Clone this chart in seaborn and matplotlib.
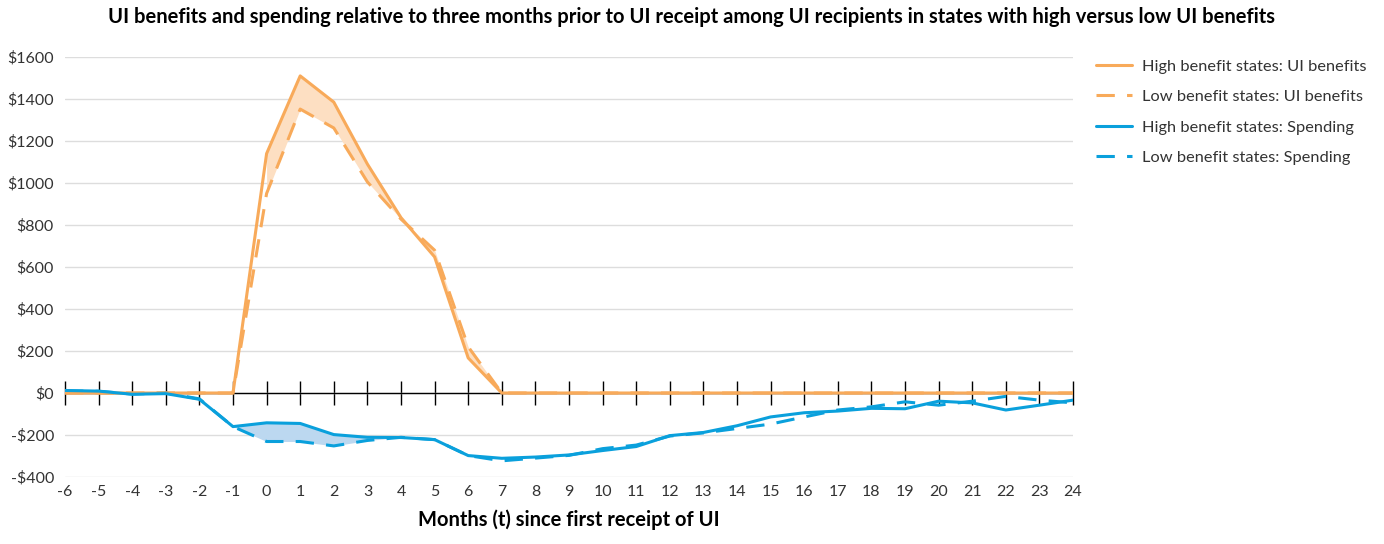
import matplotlib
matplotlib.use("Agg")
import matplotlib.pyplot as plt
import numpy as np
import pandas as pd
import seaborn as sns

months = list(range(-6, 25))

ui_high = [0, 0, 0, 0, 0, 0, 1140, 1510, 1385, 1090, 835, 648, 167, 0,
           0, 0, 0, 0, 0, 0, 0, 0, 0, 0, 0, 0, 0, 0, 0, 0, 0]
ui_low = [0, 0, 0, 0, 0, 0, 950, 1352, 1262, 1005, 828, 680, 220, 0,
          0, 0, 0, 0, 0, 0, 0, 0, 0, 0, 0, 0, 0, 0, 0, 0, 0]
spend_high = [12, 9, -6, -3, -30, -160, -142, -145, -198, -211, -212, -222, -298, -311,
              -305, -295, -274, -255, -203, -188, -156, -114, -94, -86, -73, -75, -39, -47,
              -81, -58, -34]
spend_low = [10, 8, -5, 0, -28, -160, -231, -231, -252, -226, -211, -222, -298, -323,
             -310, -297, -265, -248, -205, -190, -169, -148, -114, -81, -66, -42, -58, -39,
             -16, -34, -47]

y_ticks = [-400, -200, 0, 200, 400, 600, 800, 1000, 1200, 1400, 1600]
y_labels = ["-$400", "-$200", "$0", "$200", "$400", "$600", "$800", "$1000",
            "$1200", "$1400", "$1600"]

ORANGE = "#F8AA5A"
BLUE = "#0AA0DC"
ORANGE_FILL = "#FDDFC2"
BLUE_FILL = "#BCD8F0"
TXT = "#333333"

sns.set_style("white")
plt.rcParams["font.family"] = ["Lato", "DejaVu Sans"]

df = pd.DataFrame({
    "month": months,
    "ui_high": ui_high,
    "ui_low": ui_low,
    "spend_high": spend_high,
    "spend_low": spend_low,
})

fig = plt.figure(figsize=(13.84, 5.44), dpi=100)
ax = fig.add_axes([65 / 1384, 1 - 477 / 544, (1073 - 65) / 1384, (477 - 57) / 544])

m = df["month"].to_numpy()
ax.fill_between(m, df["ui_high"], df["ui_low"], where=(m >= 0) & (m <= 7),
                color=ORANGE_FILL, lw=0, zorder=1)
ax.fill_between(m, df["spend_high"], df["spend_low"], where=(m >= -1) & (m <= 4),
                color=BLUE_FILL, lw=0, zorder=1)

ax.axhline(0, color="black", lw=1.0, zorder=2)

dash = (6, 4)
sns.lineplot(data=df, x="month", y="ui_high", ax=ax, color=ORANGE, lw=2.2,
             label="High benefit states: UI benefits", zorder=4)
sns.lineplot(data=df, x="month", y="ui_low", ax=ax, color=ORANGE, lw=2.2,
             label="Low benefit states: UI benefits", zorder=3)
sns.lineplot(data=df, x="month", y="spend_high", ax=ax, color=BLUE, lw=2.2,
             label="High benefit states: Spending", zorder=4)
sns.lineplot(data=df, x="month", y="spend_low", ax=ax, color=BLUE, lw=2.2,
             label="Low benefit states: Spending", zorder=3)
ax.lines[2].set_dashes(dash)
ax.lines[4].set_dashes(dash)

ax.set_xlim(-6, 24)
ax.set_ylim(-400, 1600)
ax.set_yticks(y_ticks)
ax.set_yticklabels(y_labels)
ax.set_xticks(months)
ax.set_xticklabels([str(v) for v in months])
ax.yaxis.grid(True, color="#dddddd", lw=1)
ax.set_axisbelow(True)
for s in ax.spines.values():
    s.set_visible(False)
ax.tick_params(axis="both", length=0, labelsize=11.5, colors=TXT, pad=6)
ax.tick_params(axis="y", pad=8)

# tick marks on the zero line
sec = ax.secondary_xaxis(0.2)
sec.set_xticks(months)
sec.set_xticklabels([])
sec.tick_params(direction="inout", length=17, width=1, color="black")
sec.spines["bottom"].set_visible(False)

ax.set_xlabel("Months (t) since first receipt of UI", fontsize=14.5, fontweight="bold",
              color="black", labelpad=7)
ax.set_ylabel("")

fig.suptitle("UI benefits and spending relative to three months prior to UI receipt among "
             "UI recipients in states with high versus low UI benefits",
             x=0.5, y=0.988, fontsize=14.5, fontweight="bold", color="black")

leg = ax.legend(loc="upper left", bbox_to_anchor=(1.008, 1.03), frameon=False,
                fontsize=11.8, handlelength=2.2, labelspacing=0.98, handletextpad=0.6)
for t in leg.get_texts():
    t.set_color(TXT)
leg.get_lines()[1].set_dashes(dash)
leg.get_lines()[3].set_dashes(dash)

fig.savefig("out.png", dpi=100)
